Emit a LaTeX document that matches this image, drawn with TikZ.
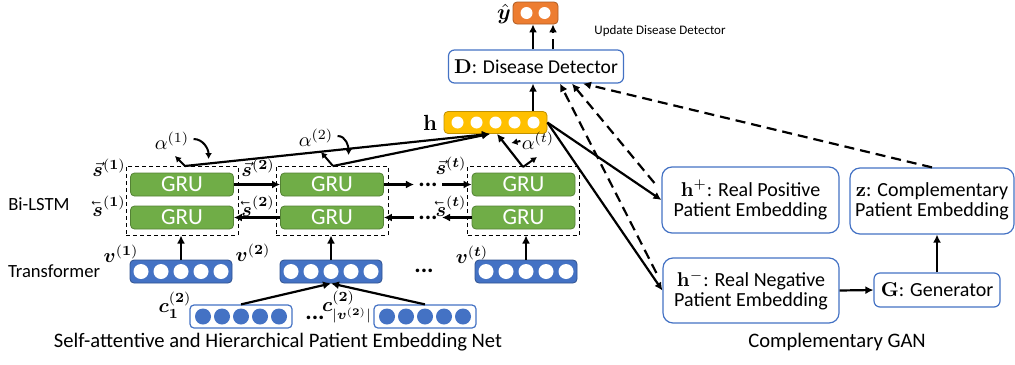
\documentclass[tikz,border=0pt]{standalone}
\usepackage{amsmath,amssymb,bm}
\usepackage[no-math]{fontspec}
\setmainfont{Carlito}
\usepackage{tikz}
\usetikzlibrary{positioning,arrows.meta,calc}
\definecolor{gruGreen}{RGB}{112,173,71}
\definecolor{gruEdge}{RGB}{84,130,53}
\definecolor{vecBlue}{RGB}{68,114,196}
\definecolor{vecEdge}{RGB}{47,82,143}
\definecolor{hYellow}{RGB}{255,192,0}
\definecolor{hEdge}{RGB}{191,144,0}
\definecolor{yOrange}{RGB}{237,125,49}
\definecolor{yEdge}{RGB}{174,90,33}
\newcommand{\sfw}{\vec{\bm{s}}}
\newcommand{\sbw}{\text{\reflectbox{$\vec{\text{\reflectbox{$\bm{s}$}}}$}}}
\newcommand{\fs}[1]{\fontsize{#1}{#1}\selectfont}
\newcommand{\bdots}{\textbf{\fs{12}...}}
\tikzset{
  gru/.style   ={fill=gruGreen, draw=gruEdge, rounded corners=2pt, text=white,
                 font=\fs{11.5}, minimum width=51.5pt, minimum height=11.5pt, inner sep=0pt},
  grp/.style   ={draw, dashed, dash pattern=on 2pt off 1.5pt, line width=0.5pt,
                 minimum width=56pt, minimum height=34.5pt},
  vecbox/.style={fill=vecBlue, draw=vecEdge, rounded corners=2pt,
                 minimum width=51pt, minimum height=11.5pt},
  codebox/.style={fill=white, draw=vecBlue, rounded corners=2pt, line width=0.6pt,
                 minimum width=51pt, minimum height=11.5pt},
  hbox/.style  ={fill=hYellow, draw=hEdge, rounded corners=2pt,
                 minimum width=51.5pt, minimum height=11pt},
  outbox/.style={fill=yOrange, draw=yEdge, rounded corners=2pt,
                 minimum width=22.5pt, minimum height=11pt},
  wdot/.style  ={circle, fill=white, inner sep=0pt, minimum size=7.5pt},
  bdot/.style  ={circle, fill=vecBlue, inner sep=0pt, minimum size=8pt},
  pbox/.style  ={draw=vecBlue, fill=white, rounded corners=5pt, align=center,
                 line width=0.6pt, font=\fs{10}, inner sep=2pt},
  lbl/.style   ={font=\fs{10}, inner sep=0pt},
  ar/.style    ={-{Latex[length=4pt,width=4pt]}, line width=1.1pt},
  sar/.style   ={-{Latex[length=3pt,width=3.5pt]}, line width=1pt},
  dar/.style   ={-{Latex[length=4pt,width=4pt]}, line width=1.1pt, dash pattern=on 5pt off 3pt},
}
\begin{document}
\begin{tikzpicture}[x=0.5pt,y=-0.5pt]
\useasboundingbox (0,0) rectangle (1015,364);

% output and detector
\node[outbox] (yhat) at (535.5,13) {};
\foreach \i in {-1,1} \node[wdot,minimum size=6pt] at ([xshift=\i*4.5pt]yhat.center) {};
\node[lbl,font=\fs{11}] (yl) at (504,14) {$\hat{\bm{y}}$};
\node[font=\fs{6.5}] (upd) at (660,31) {Update Disease Detector};
\node[pbox, minimum width=87.5pt, minimum height=16.5pt, rounded corners=3pt, font=\fs{9.8}] (D) at (536,66.5)
   {$\mathbf{D}$: Disease Detector};
\draw[ar] ([xshift=-1.5pt]D.north) -- ([xshift=-1.5pt]D.north |- yhat.south);
\draw[dar] ([xshift=8.5pt]D.north) -- ([xshift=8.5pt]D.north |- yhat.south);

% patient embedding h
\node[hbox] (h) at (495.5,122.5) {};
\foreach \i in {-2,...,2} \node[wdot,minimum size=6pt] at ([xshift=\i*9.5pt]h.center) {};
\node[lbl,font=\fs{11}] (hl) at (430,123) {$\mathbf{h}$};
\draw[ar] ([xshift=18.75pt]h.north) -- ([xshift=18.75pt]h.north |- D.south);

% Bi-LSTM columns
\foreach \n/\x in {1/182,2/332,t/523.5}{
  \node[gru] (gf\n) at (\x,184.5) {GRU};
  \node[gru] (gb\n) at (\x,217.5) {GRU};
  \node[grp] (grp\n) at (\x,200.5) {};
}
\node[lbl] at (109,168) {$\sfw^{(\mathbf{1})}$};
\node[lbl] at (109,206) {$\sbw^{(\mathbf{1})}$};
\node[lbl] at (258,168) {$\sfw^{(\mathbf{2})}$};
\node[lbl] at (258,206) {$\sbw^{(\mathbf{2})}$};
\node[lbl] at (451,166) {$\sfw^{(\bm{t})}$};
\node[lbl] at (451,206) {$\sbw^{(\bm{t})}$};
\node[font=\fs{9.3}] (bil) at (39,204) {Bi-LSTM};
\draw[ar] (gf1.east) -- (gf2.west);
\draw[ar] (gb2.west) -- (gb1.east);
\node[lbl] (dt) at (428,184.5) {\bdots};
\node[lbl] (db) at (428,217.5) {\bdots};
\draw[ar] (gf2.east) -- ([xshift=-2pt]dt.west);
\draw[ar] ([xshift=2pt]dt.east) -- (gft.west);
\draw[ar] ([xshift=-2pt]db.west) -- (gb2.east);
\draw[ar] (gbt.west) -- ([xshift=2pt]db.east);

% attention
\coordinate (a1) at (185,166);
\coordinate (a2) at (333,166);
\coordinate (at) at (523,167);
\coordinate (hin) at ([xshift=-2.75pt]h.south);
\draw[ar] (a1) -- (hin);
\draw[ar] (a2) -- (hin);
\draw[ar] (at) -- ([xshift=0.75pt]h.south);
\draw[sar] (a1) -- ++(-10,-10);
\draw[sar] (a2) -- ++(-12,-14);
\draw[sar] (at) -- ++(14,-10);
\node[lbl] (al1) at (172,141) {$\alpha^{(1)}$};
\node[lbl] (al2) at (316,138) {$\alpha^{(2)}$};
\node[lbl] (alt) at (538,141) {$\alpha^{(t)}$};
\draw[sar] ([xshift=2pt,yshift=1pt]al1.east) to[out=0,in=90] ++(15,20);
\draw[sar] ([xshift=2pt,yshift=1pt]al2.east) to[out=0,in=90] ++(11,19);
\draw[sar] ([xshift=-0.5pt]alt.west) -- ++(-9,2);

% transformer
\foreach \n/\x in {1/181,2/331,t/526}{
  \node[vecbox] (v\n) at (\x,271.5) {};
  \foreach \i in {-2,...,2} \node[wdot] at ([xshift=\i*10pt]v\n.center) {};
  \draw[ar] (v\n.north) -- (v\n.north |- grp\n.south);
}
\node[lbl] at (121,254) {$\bm{v}^{(\mathbf{1})}$};
\node[lbl] at (253,253) {$\bm{v}^{(\mathbf{2})}$};
\node[lbl] at (472,255) {$\bm{v}^{(\bm{t})}$};
\node[lbl] at (424,271) {\bdots};
\node[font=\fs{9.3}] (trf) at (54,271) {Transformer};

% medical codes
\foreach \n/\x in {1/241,2/425}{
  \node[codebox] (c\n) at (\x,316.5) {};
  \foreach \i in {-2,...,2} \node[bdot] at ([xshift=\i*9.5pt]c\n.center) {};
  \draw[ar] (c\n.north) -- (v2.south);
}
\node[lbl] at (175,305) {$\bm{c}_{\mathbf{1}}^{(\mathbf{2})}$};
\node[lbl] at (315,318) {\bdots};
\node[lbl] at (347,307) {$\bm{c}^{(\mathbf{2})}_{|\bm{v}^{(\mathbf{2})}|}$};

% complementary GAN
\node[pbox, minimum width=88.5pt, minimum height=33pt] (hp) at (750.5,200)
   {$\mathbf{h}^{+}$: Real Positive\\Patient Embedding};
\node[pbox, minimum width=88pt, minimum height=32.5pt] (hn) at (751,290.5)
   {$\mathbf{h}^{-}$: Real Negative\\Patient Embedding};
\node[pbox, minimum width=82pt, minimum height=33pt] (z) at (932,201)
   {$\mathbf{z}$: Complementary\\Patient Embedding};
\node[pbox, minimum width=63pt, minimum height=17pt, rounded corners=3pt] (G) at (937,290)
   {$\mathbf{G}$: Generator};
\draw[ar] (h.east) -- (hp.west);
\draw[ar] (h.east) -- (hn.west);
\draw[ar] (hn.east) -- (G.west);
\draw[ar] (G.north) -- (G.north |- z.south);
\coordinate (dp) at ([xshift=-3.5pt,yshift=8.5pt]hp.west);
\coordinate (dn) at ([xshift=-3pt,yshift=8.75pt]hn.west);
\draw[dar] (dp) -- ([xshift=18pt]D.south);
\draw[dar] (dn) -- ([xshift=12pt]D.south);
\draw[dar] (z.north) -- ([xshift=23.5pt]D.south);

% captions
\node[font=\fs{10.3}] (cap1) at (278,342) {Self-attentive and Hierarchical Patient Embedding Net};
\node[font=\fs{10.3}] (cap2) at (837,342) {Complementary GAN};
\end{tikzpicture}
\end{document}
